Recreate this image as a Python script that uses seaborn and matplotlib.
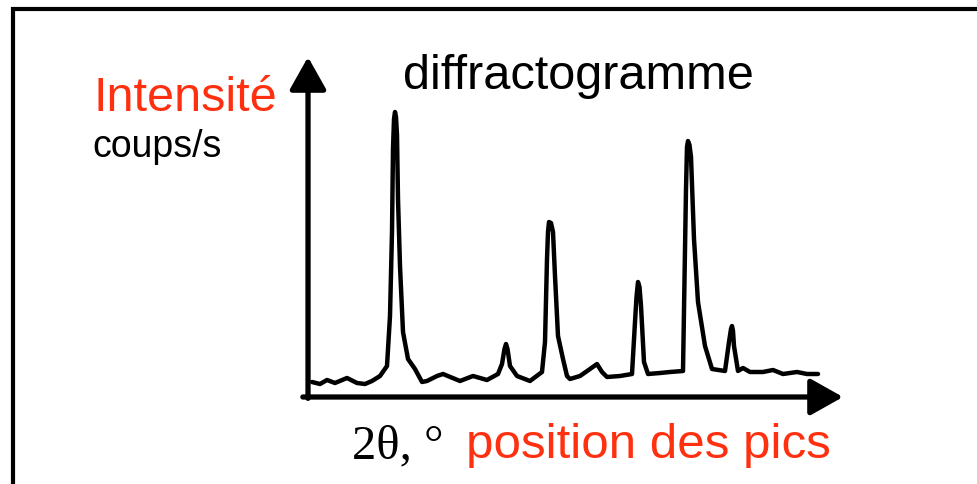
import seaborn as sns
import matplotlib.pyplot as plt
from matplotlib.patches import Rectangle

# diffractogramme (unités arbitraires)
two_theta = [1.4, 3.0, 4.4, 6.0, 8.4, 10.4, 12.0, 13.4, 15.0, 16.4, 17.0, 17.4,
             17.6, 17.8, 18.0, 18.2, 18.4, 18.6, 19.0, 19.6, 20.6, 22.0, 23.4,
             24.4, 26.4, 27.6, 31.0, 33.6, 36.4, 38.6, 39.4, 39.9, 40.2, 40.5,
             41.0, 42.4, 45.0, 47.4, 48.0, 48.4, 48.6, 48.8, 49.2, 49.6, 50.0,
             50.6, 51.6, 52.4, 53.0, 55.0, 57.0, 58.4, 59.4, 60.4, 63.0, 65.4,
             66.0, 66.3, 66.6, 66.9, 67.2, 67.8, 68.6, 71.0, 73.0, 75.6, 76.2,
             76.4, 76.6, 76.9, 77.2, 77.8, 78.6, 80.0, 81.4, 84.0, 84.8, 85.2,
             85.4, 85.6, 85.8, 86.6, 87.6, 89.0, 91.6, 93.6, 95.6, 98.4, 100.4,
             102.6]
intensity = [15, 13, 17, 14, 19, 14, 13, 16, 21, 31, 81, 165,
             248, 278, 285, 280, 262, 198, 131, 65, 38, 28, 15,
             16, 21, 23, 16, 21, 17, 23, 33, 48, 53, 48,
             31, 21, 16, 25, 55, 138, 165, 175, 174, 165, 121,
             61, 38, 21, 18, 21, 28, 33, 25, 20, 21, 23,
             75, 100, 115, 110, 91, 35, 23, 24, 25, 26, 208,
             250, 256, 252, 240, 158, 95, 51, 28, 26, 55, 68,
             71, 66, 51, 26, 29, 25, 25, 27, 23, 25, 23,
             23]

red = '#ff3010'

sns.set_style('white')
plt.rcParams['font.family'] = ['Liberation Sans', 'DejaVu Sans']

fig = plt.figure(figsize=(9.77, 4.85), dpi=100)
ax = fig.add_axes([305 / 977, 1 - 398 / 485, 538 / 977, 340 / 485])

sns.lineplot(x=two_theta, y=intensity, ax=ax, color='black', linewidth=3.2,
             solid_joinstyle='round', solid_capstyle='round')
ax.set_xlim(0, 107.6)
ax.set_ylim(0, 340)
ax.set_xticks([])
ax.set_yticks([])
for s in ax.spines.values():
    s.set_visible(False)
ax.patch.set_alpha(0)

# axes fléchés
arrow = dict(arrowstyle='-|>,head_length=0.8,head_width=0.45', mutation_scale=25,
             color='black', linewidth=3.8, shrinkA=0, shrinkB=0)
ax.annotate('', xy=(0.0056, 1.0), xytext=(0.0056, -0.004),
            xycoords='axes fraction', arrowprops=arrow)
ax.annotate('', xy=(1.0, 0.0), xytext=(-0.004, 0.0),
            xycoords='axes fraction', arrowprops=arrow)

# cadre autour
fig.patches.append(Rectangle((13 / 977, -0.2), 1.2, 1.2 - 10 / 485,
                             transform=fig.transFigure, fill=False,
                             edgecolor='black', linewidth=3))

fig.text(93 / 977, 1 - 111 / 485, 'Intensité', color=red, fontsize=35,
         va='baseline', ha='left')
fig.text(92 / 977, 1 - 157 / 485, 'coups/s', color='black', fontsize=27,
         va='baseline', ha='left')
fig.text(403 / 977, 1 - 89 / 485, 'diffractogramme', color='black', fontsize=35,
         va='baseline', ha='left')
fig.text(352 / 977, 1 - 458 / 485, '2θ, °', color='black', fontsize=35,
         va='baseline', ha='left', family=['Liberation Serif', 'DejaVu Serif'])
fig.text(466 / 977, 1 - 458 / 485, 'position des pics', color=red, fontsize=35.5,
         va='baseline', ha='left')

fig.savefig('out.png', dpi=100)
